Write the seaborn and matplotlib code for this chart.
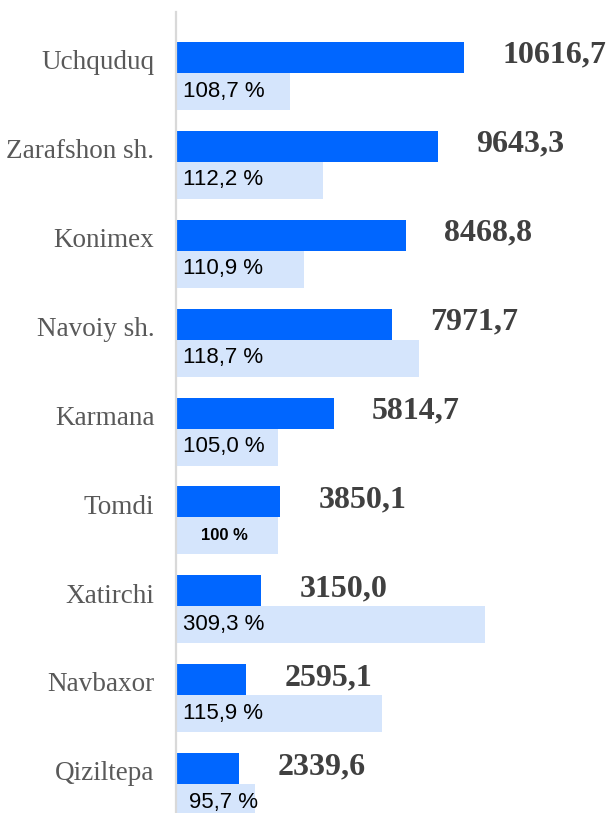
import numpy as np
import pandas as pd
import matplotlib
matplotlib.use("Agg")
import matplotlib.pyplot as plt
import seaborn as sns

# ---- data ----
regions = ["Uchquduq", "Zarafshon sh.", "Konimex", "Navoiy sh.", "Karmana",
           "Tomdi", "Xatirchi", "Navbaxor", "Qiziltepa"]
values = [10616.7, 9643.3, 8468.8, 7971.7, 5814.7, 3850.1, 3150.0, 2595.1, 2339.6]
value_labels = ["10616,7", "9643,3", "8468,8", "7971,7", "5814,7",
                "3850,1", "3150,0", "2595,1", "2339,6"]
# length of the light bars (same scale as values)
light_lengths = [4191, 5418, 4733, 8957, 3745, 3745, 11375, 7593, 2927]
pct_labels = ["108,7 %", "112,2 %", "110,9 %", "118,7 %", "105,0 %",
              "100 %", "309,3 %", "115,9 %", "95,7 %"]

df = pd.DataFrame({
    "region": regions * 2,
    "length": values + light_lengths,
    "series": ["value"] * len(regions) + ["pct"] * len(regions),
})

sns.set_style("white")
plt.rcParams["font.family"] = ["Liberation Serif", "DejaVu Serif"]

W, H = 607, 813
fig = plt.figure(figsize=(W / 100, H / 100), dpi=100)
ax = fig.add_axes([176 / W, 0, (W - 176) / W, 801 / H])

sns.barplot(data=df, x="length", y="region", hue="series",
            order=regions, hue_order=["value", "pct"],
            palette={"value": "#0066ff", "pct": "#d5e5fc"},
            saturation=1, dodge=True, width=0.76, linewidth=0,
            legend=False, ax=ax)

dark_h, light_h = 0.349, 0.416
for p in ax.containers[0]:
    yc = p.get_y() + p.get_height()  # boundary (category centre)
    p.set_y(yc - dark_h)
    p.set_height(dark_h)
for p in ax.containers[1]:
    p.set_height(light_h)

n = len(regions)
ax.set_xlim(0, (W - 176) / 0.02713)
ax.set_ylim(n - 1 + 0.324, -0.686)

ax.set_yticks(np.arange(n) - 0.15)
ax.set_yticklabels(regions, fontsize=19.5, color="#595959",
                   family=["Liberation Serif", "DejaVu Serif"])
ax.tick_params(axis="y", length=0, pad=15.5)
ax.set_xticks([])
ax.set_xlabel("")
ax.set_ylabel("")

for s in ["top", "right", "bottom"]:
    ax.spines[s].set_visible(False)
ax.spines["left"].set_color("#d9d9d9")
ax.spines["left"].set_linewidth(1.6)

for i in range(n):
    ax.annotate(value_labels[i], xy=(values[i], i - dark_h / 2 - 0.025),
                xytext=(27.5, 0), textcoords="offset points",
                ha="left", va="center", fontsize=23, fontweight="bold",
                color="#404040", family=["Liberation Serif", "DejaVu Serif"])
    yl = i + light_h / 2 - 0.005
    if regions[i] == "Tomdi":
        ax.text(light_lengths[i] / 2 - 100, yl + 0.005, pct_labels[i],
                ha="center", va="center", fontsize=12, fontweight="bold",
                color="black", family=["Liberation Sans", "DejaVu Sans"])
    else:
        off = 9.5 if regions[i] == "Qiziltepa" else 5
        ax.annotate(pct_labels[i], xy=(0, yl), xytext=(off, 0),
                    textcoords="offset points", ha="left", va="center",
                    fontsize=16, color="black",
                    family=["Liberation Sans", "DejaVu Sans"])

fig.savefig("out.png", dpi=100)
